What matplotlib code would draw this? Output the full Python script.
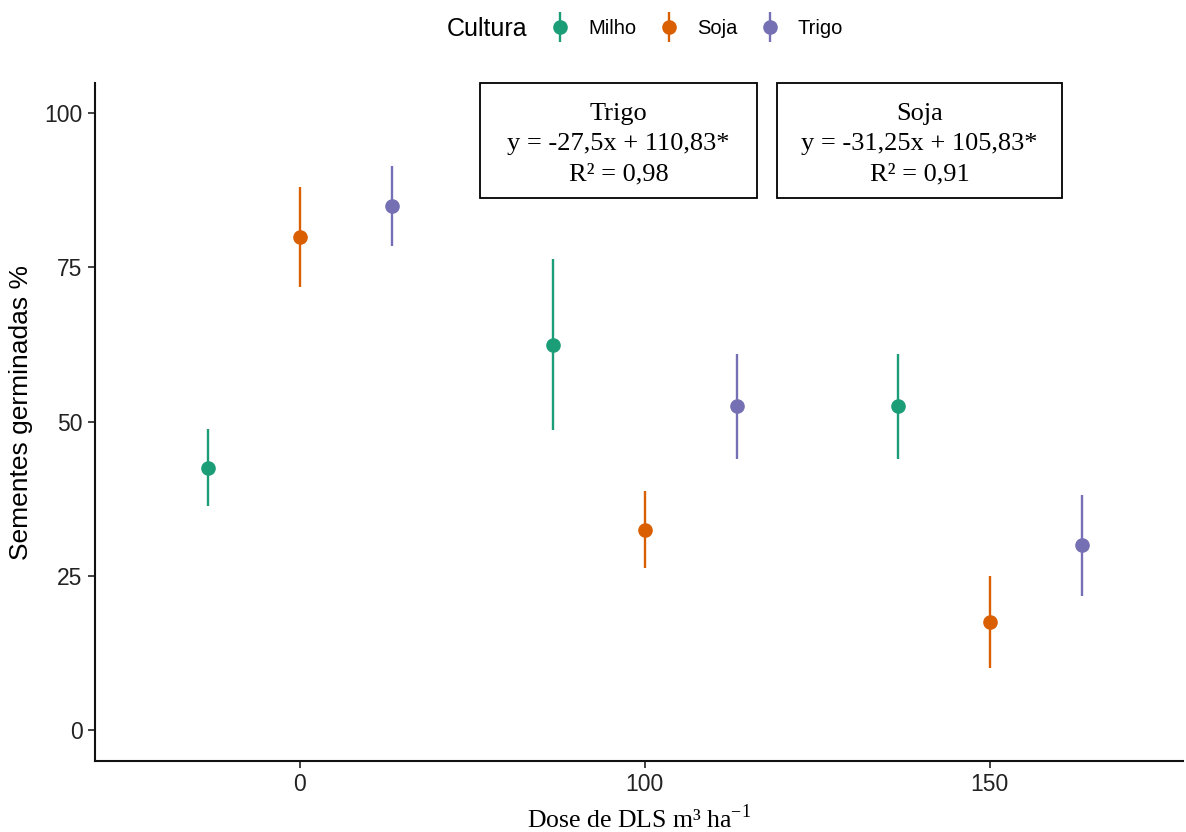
import matplotlib
matplotlib.use("Agg")
import matplotlib.pyplot as plt
import numpy as np
from matplotlib.patches import Rectangle
from matplotlib.lines import Line2D
from matplotlib.legend_handler import HandlerTuple

doses = ["0", "100", "150"]
cultures = ["Milho", "Soja", "Trigo"]
colors = ["#1B9E77", "#D95F02", "#7570B3"]
means = {
    "Milho": [42.5, 62.5, 52.5],
    "Soja": [80.0, 32.5, 17.5],
    "Trigo": [85.0, 52.5, 30.0],
}
lower = {
    "Milho": [36.3, 48.7, 43.9],
    "Soja": [71.8, 26.3, 10.0],
    "Trigo": [78.5, 43.9, 21.8],
}
upper = {
    "Milho": [48.8, 76.3, 61.0],
    "Soja": [88.1, 38.8, 25.0],
    "Trigo": [91.4, 61.0, 38.1],
}
eq_texts = ["Trigo\ny = -27,5x + 110,83*\nR² = 0,98",
            "Soja\ny = -31,25x + 105,83*\nR² = 0,91"]

plt.rcParams['font.family'] = ['Liberation Sans', 'DejaVu Sans']
plt.rcParams['mathtext.fontset'] = 'custom'
plt.rcParams['mathtext.rm'] = 'Liberation Serif'

W, H = 1186, 832
fig = plt.figure(figsize=(W / 100, H / 100), dpi=100)
ax = fig.add_axes([95 / W, (H - 760.5) / H, (1183 - 95) / W, (760.5 - 83) / H])

x = np.arange(len(doses))
dodge = 0.267
handles = []
for i, c in enumerate(cultures):
    m = np.array(means[c])
    lo = m - np.array(lower[c])
    hi = np.array(upper[c]) - m
    ax.errorbar(x + (i - 1) * dodge, m, yerr=[lo, hi], fmt='o', color=colors[i],
                markersize=9.5, elinewidth=1.7, capsize=0, label=c)
    handles.append((Line2D([], [], marker='|', markersize=22, markeredgewidth=1.7,
                           linestyle='none', color=colors[i]),
                    Line2D([], [], marker='o', markersize=9.5, linestyle='none',
                           color=colors[i])))

ax.set_xlim(-0.594, 2.56)
ax.set_ylim(-4.95, 104.9)
ax.set_xticks(x)
ax.set_xticklabels(doses)
ax.set_yticks([0, 25, 50, 75, 100])
ax.tick_params(axis='both', labelsize=16.5, length=5, width=1.2, color='#222222',
               labelcolor='#222222', pad=4)
for s in ['top', 'right']:
    ax.spines[s].set_visible(False)
for s in ['left', 'bottom']:
    ax.spines[s].set_linewidth(1.5)
    ax.spines[s].set_color('#111111')

ax.set_ylabel("Sementes germinadas %", fontsize=19, family='Liberation Sans')
ax.yaxis.set_label_coords(-0.057, 0.513)
ax.set_xlabel(r"Dose de DLS m³ ha$^{\mathrm{-1}}$", fontsize=18.5, family='Liberation Serif',
              labelpad=6)

# equation boxes
boxes = [(0.522, 1.325), (1.383, 2.209)]
for (x0, x1), t in zip(boxes, eq_texts):
    ax.add_patch(Rectangle((x0, 86.3), x1 - x0, 104.9 - 86.3, fill=False,
                           edgecolor='black', linewidth=1.3, clip_on=False))
    ax.text((x0 + x1) / 2, 95.0, t, ha='center', va='center', fontsize=19,
            family='Liberation Serif', linespacing=1.47)

fig.text(447 / W, 1 - 29 / H, "Cultura", fontsize=18, family='Liberation Sans',
         va='center', ha='left')
leg = fig.legend(handles=handles, labels=cultures, ncol=3, loc='center left',
                 bbox_to_anchor=(528 / W, 1 - 29 / H), frameon=False,
                 prop={'family': 'Liberation Sans', 'size': 14.5},
                 handler_map={tuple: HandlerTuple(ndivide=1)},
                 handlelength=1.4, handletextpad=0.7, columnspacing=0.9)

fig.savefig("out.png", dpi=100)
